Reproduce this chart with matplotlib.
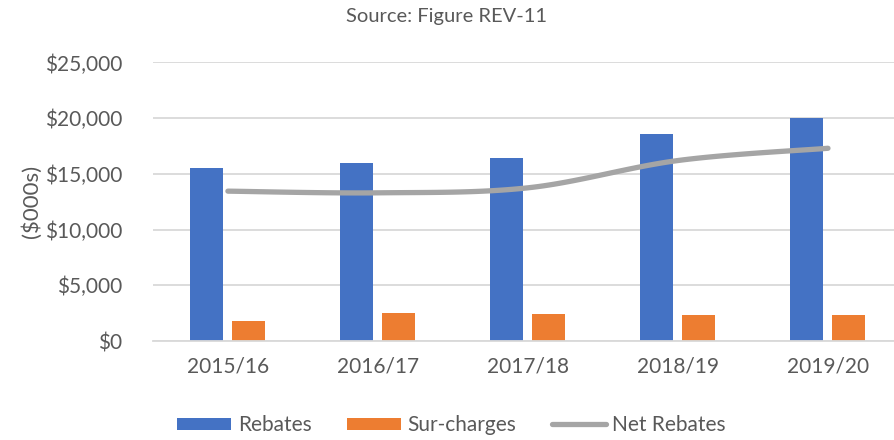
import matplotlib.pyplot as plt
import numpy as np

plt.rcParams['font.family'] = ['Lato', 'DejaVu Sans']

years = ["2015/16", "2016/17", "2017/18", "2018/19", "2019/20"]
rebates = [15500, 16000, 16400, 18600, 20000]
surcharges = [1800, 2500, 2400, 2300, 2300]
net_rebates = [13450, 13300, 13750, 16200, 17300]

TEXT = '#595959'
GRID = '#D9D9D9'


def smooth(xs, ys, n=30, tension=0.5):
    # Catmull-Rom style curve through the points (like Excel's smoothed line)
    xs = np.asarray(xs, float)
    ys = np.asarray(ys, float)
    px = np.concatenate([[xs[0]], xs, [xs[-1]]])
    py = np.concatenate([[ys[0]], ys, [ys[-1]]])
    out_x, out_y = [], []
    for i in range(1, len(px) - 2):
        t = np.linspace(0, 1, n)
        m1x = tension * (px[i + 1] - px[i - 1])
        m1y = tension * (py[i + 1] - py[i - 1])
        m2x = tension * (px[i + 2] - px[i])
        m2y = tension * (py[i + 2] - py[i])
        h00 = 2 * t**3 - 3 * t**2 + 1
        h10 = t**3 - 2 * t**2 + t
        h01 = -2 * t**3 + 3 * t**2
        h11 = t**3 - t**2
        out_x.extend(h00 * px[i] + h10 * m1x + h01 * px[i + 1] + h11 * m2x)
        out_y.extend(h00 * py[i] + h10 * m1y + h01 * py[i + 1] + h11 * m2y)
    return out_x, out_y


fig = plt.figure(figsize=(8.94, 4.4), dpi=100)
ax = fig.add_axes([0.171, 0.225, 0.829, 0.633])

x = np.arange(len(years))
w = 0.22
b1 = ax.bar(x - 0.143, rebates, w, color='#4472C4', label='Rebates', zorder=2)
b2 = ax.bar(x + 0.137, surcharges, w, color='#ED7D31', label='Sur-charges', zorder=2)
sx, sy = smooth(x, net_rebates)
ln, = ax.plot(sx, sy, color='#A5A5A5', lw=3.8, solid_capstyle='round', label='Net Rebates', zorder=3)

ax.set_xlim(-0.5, 4.44)
ax.set_ylim(0, 25000)
ax.set_yticks(range(0, 25001, 5000))
ax.set_yticklabels(['$' + format(v, ',') for v in range(0, 25001, 5000)])
ax.set_xticks(x)
ax.set_xticklabels(years)
ax.tick_params(axis='both', length=0, labelsize=15, colors=TEXT)
ax.tick_params(axis='y', pad=22)
ax.tick_params(axis='x', pad=11)
ax.grid(axis='y', color=GRID, lw=1.3, zorder=0)
ax.set_axisbelow(True)
for s in ['top', 'right', 'left']:
    ax.spines[s].set_visible(False)
ax.spines['bottom'].set_color(GRID)
ax.spines['bottom'].set_linewidth(1.3)

ax.set_ylabel('($000s)', fontsize=16, color=TEXT, labelpad=2)
fig.text(0.5, 0.963, 'Source: Figure REV-11', ha='center', va='center', fontsize=14.5, color=TEXT)

fig.legend(handles=[b1, b2, ln], loc='center', bbox_to_anchor=(0.505, 0.034), ncol=3, frameon=False,
           fontsize=15, labelcolor=TEXT, handlelength=2.6, handleheight=0.5,
           handletextpad=0.3, columnspacing=1.7)

fig.savefig('out.png', dpi=100)
